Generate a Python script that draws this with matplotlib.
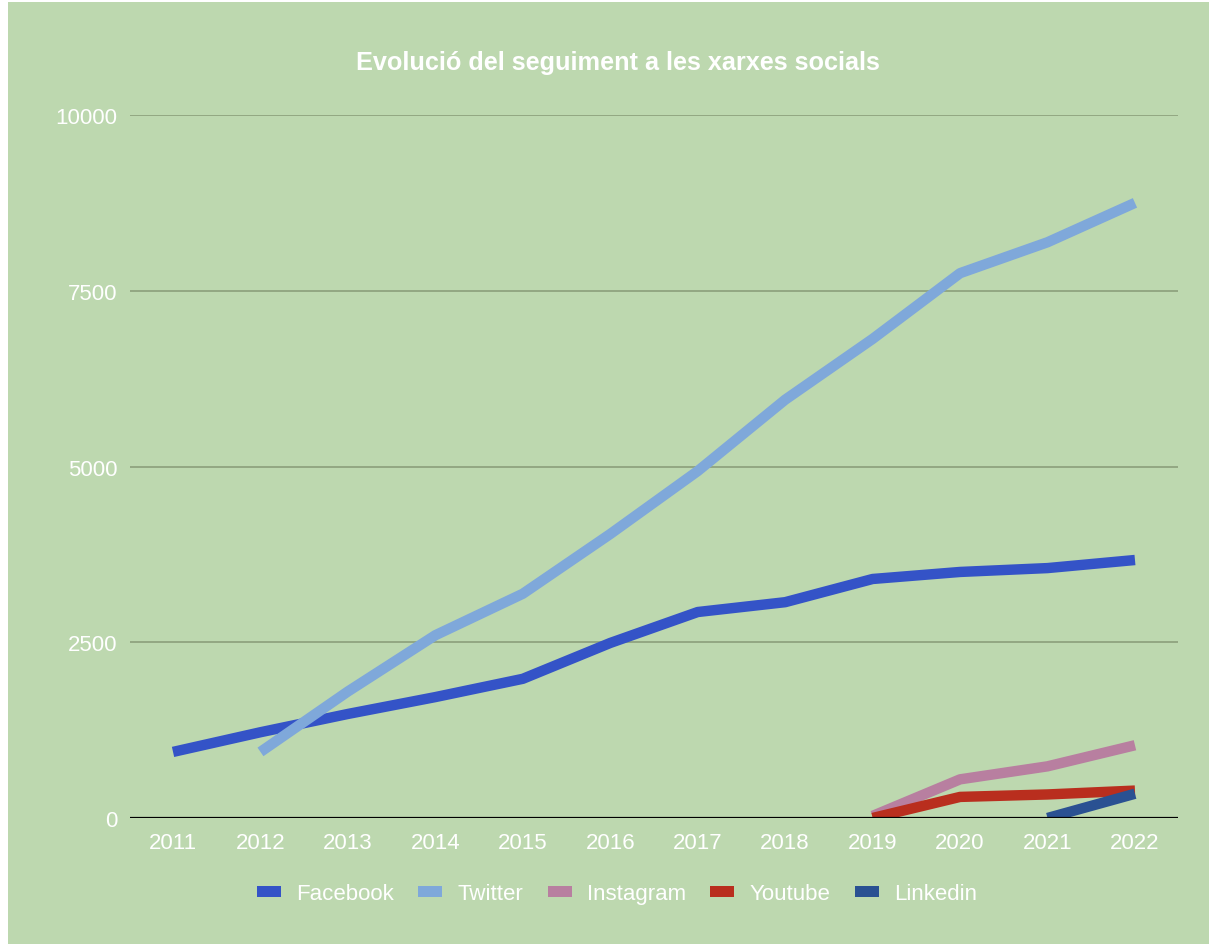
import numpy as np
import matplotlib
matplotlib.use("Agg")
import matplotlib.pyplot as plt
from matplotlib.patches import Patch, Rectangle

years = [2011, 2012, 2013, 2014, 2015, 2016, 2017, 2018, 2019, 2020, 2021, 2022]
facebook = [940, 1220, 1480, 1720, 1980, 2490, 2930, 3070, 3400, 3500, 3555, 3670]
twitter = [np.nan, 940, 1800, 2600, 3190, 4040, 4935, 5950, 6815, 7750, 8190, 8750]
instagram = [np.nan] * 8 + [30, 550, 735, 1035]
youtube = [np.nan] * 8 + [0, 300, 335, 390]
linkedin = [np.nan] * 9 + [np.nan, 0, 345]

series_names = ["Facebook", "Twitter", "Instagram", "Youtube", "Linkedin"]
series_values = [facebook, twitter, instagram, youtube, linkedin]
colors = ["#3453c7", "#7fa8da", "#b87fa0", "#b92e1e", "#2a5192"]
yticks = [0, 2500, 5000, 7500, 10000]
title = "Evolució del seguiment a les xarxes socials"

BG = "#bdd8af"
plt.rcParams['font.family'] = ['Liberation Sans', 'DejaVu Sans']

W, H = 1209, 945
fig = plt.figure(figsize=(W / 100, H / 100), dpi=100, facecolor="white")
fig.patches.append(Rectangle((8 / W, 0), 1 - 8 / W, 1 - 3 / H, transform=fig.transFigure,
                             facecolor=BG, edgecolor="none", zorder=-10))

ax = fig.add_axes([130 / W, 1 - 819 / H, (1178 - 130) / W, (819 - 116) / H])
ax.set_facecolor(BG)

for name, vals, c in zip(series_names, series_values, colors):
    ax.plot(years, vals, color=c, lw=7.5, solid_capstyle="butt",
            solid_joinstyle="round", label=name, zorder=3)

ax.set_xlim(2010.508, 2022.492)
ax.set_ylim(0, 10000)
ax.set_xticks(years)
ax.set_xticklabels([str(y) for y in years])
ax.set_yticks(yticks)
ax.set_yticklabels([str(v) for v in yticks])
ax.tick_params(axis="both", length=0, colors="white", labelsize=16)
ax.tick_params(axis="y", pad=9)
ax.tick_params(axis="x", pad=10)
for s in ax.spines.values():
    s.set_visible(False)
ax.grid(axis="y", color="#8fa37f", lw=1.3, zorder=1)
ax.grid(axis="x", visible=False)
ax.axhline(0, color="black", lw=1.6, zorder=4)

fig.text(618 / W, 1 - 63 / H, title, ha="center", va="center", color="white",
         fontsize=18.2, fontweight="bold")

handles = [Patch(facecolor=c, edgecolor="none") for c in colors]
fig.legend(handles, series_names, loc="center", bbox_to_anchor=(617 / W, 1 - 895 / H),
           ncol=5, frameon=False, fontsize=16, labelcolor="white",
           handlelength=1.08, handleheight=0.36, handletextpad=0.68, columnspacing=1.1)

fig.savefig("out.png", dpi=100, facecolor="white")
